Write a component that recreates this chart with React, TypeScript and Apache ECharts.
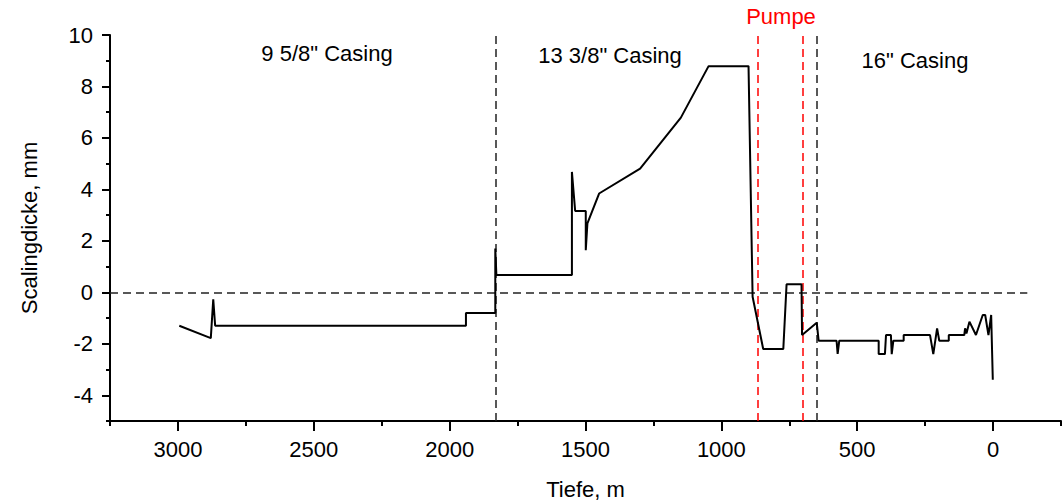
import React, { useEffect, useRef } from "react";
import * as echarts from "echarts";

// Depth (m) and scaling thickness (mm)
const depth = [
  2995, 2879, 2870, 2863, 1940, 1940, 1832, 1832, 1828, 1550, 1550, 1538, 1499, 1499,
  1493, 1450, 1299, 1149, 1047, 900, 885, 846, 772, 760, 705, 703, 649, 642, 576, 572,
  566, 421, 421, 398, 394, 376, 373, 367, 329, 329, 232, 220, 206, 198, 163, 163, 106,
  103, 98, 87, 63, 38, 29, 17, 7, 1,
];
const thickness = [
  -1.3, -1.78, -0.27, -1.3, -1.3, -0.8, -0.8, 1.7, 0.67, 0.67, 4.68, 3.16, 3.16, 1.64,
  2.68, 3.84, 4.81, 6.79, 8.79, 8.79, -0.17, -2.2, -2.2, 0.31, 0.31, -1.66, -1.18, -1.88,
  -1.88, -2.39, -1.88, -1.88, -2.4, -2.4, -1.66, -1.66, -2.4, -1.88, -1.88, -1.66, -1.66,
  -2.4, -1.4, -1.88, -1.88, -1.66, -1.66, -1.4, -1.6, -1.14, -1.66, -0.88, -0.88, -1.66,
  -0.88, -3.4,
];

const xTickValues = [0, 500, 1000, 1500, 2000, 2500, 3000];
const xMinorTickValues = [-250, 250, 750, 1250, 1750, 2250, 2750, 3250];
const yTickValues = [-4, -2, 0, 2, 4, 6, 8, 10];
const yMinorTickValues = [-5, -3, -1, 1, 3, 5, 7, 9];

const casingBoundaries = [1832, 648];
const pumpBoundaries = [867, 701];
const zeroLineEnd = -126;

const casingLabels = ['9 5/8" Casing', '13 3/8" Casing', '16" Casing'];
const pumpLabel = "Pumpe";

const FONT = "'Liberation Sans', Arial, sans-serif";
const FS = 22;

export default function App() {
  const ref = useRef<HTMLDivElement>(null);
  useEffect(() => {
    document.body.style.margin = "0";
    const chart = echarts.init(ref.current!, null, { renderer: "svg" });
    const xRange = { min: -250, max: 3250, inverse: true };
    const txt = { fontSize: FS, color: "#000", fontFamily: FONT };
    const plain = (v: number) => String(v);
    chart.setOption({
      animation: false,
      backgroundColor: "#fff",
      grid: { left: 110, right: 2, top: 35, bottom: 79, containLabel: false, outerBoundsMode: "none" },
      xAxis: [
        {
          type: "value",
          ...xRange,
          position: "bottom",
          name: "Tiefe, m",
          nameLocation: "middle",
          nameGap: 57,
          nameTextStyle: txt,
          axisLine: { show: true, onZero: false, lineStyle: { color: "#000", width: 2 } },
          axisTick: { show: true, customValues: xTickValues, length: 10, lineStyle: { color: "#000", width: 2 } },
          axisLabel: { customValues: xTickValues, margin: 17, formatter: plain, ...txt },
          splitLine: { show: false },
        },
        {
          type: "value",
          ...xRange,
          position: "bottom",
          axisLine: { show: false, onZero: false },
          axisTick: { show: true, customValues: xMinorTickValues, length: 5, lineStyle: { color: "#000", width: 2 } },
          axisLabel: { show: false },
          splitLine: { show: false },
        },
      ],
      yAxis: [
        {
          type: "value",
          min: -5,
          max: 10,
          position: "left",
          name: "Scalingdicke, mm",
          nameLocation: "middle",
          nameGap: 70,
          nameTextStyle: txt,
          axisLine: { show: true, onZero: false, lineStyle: { color: "#000", width: 2 } },
          axisTick: { show: true, customValues: yTickValues, length: 8, lineStyle: { color: "#000", width: 2 } },
          axisLabel: { customValues: yTickValues, margin: 17, formatter: plain, ...txt },
          splitLine: { show: false },
        },
        {
          type: "value",
          min: -5,
          max: 10,
          position: "left",
          axisLine: { show: false, onZero: false },
          axisTick: { show: true, customValues: yMinorTickValues, length: 4, lineStyle: { color: "#000", width: 2 } },
          axisLabel: { show: false },
          splitLine: { show: false },
        },
      ],
      series: [
        {
          type: "line",
          xAxisIndex: 0,
          yAxisIndex: 0,
          data: depth.map((d, i) => [d, thickness[i]]),
          showSymbol: false,
          symbol: "none",
          lineStyle: { color: "#000", width: 2 },
          z: 5,
          markLine: {
            silent: true,
            symbol: ["none", "none"],
            label: { show: false },
            animation: false,
            data: [
              ...casingBoundaries.map((v) => ({
                xAxis: v,
                lineStyle: { color: "#222", type: [8, 5], width: 1.5 },
              })),
              ...pumpBoundaries.map((v) => ({
                xAxis: v,
                lineStyle: { color: "#ff0000", type: [8, 5], width: 1.5 },
              })),
              [
                { coord: [3250, 0], lineStyle: { color: "#222", type: [8, 5], width: 1.5 } },
                { coord: [zeroLineEnd, 0] },
              ],
            ],
          },
        },
      ],
      graphic: [
        { type: "text", x: 327, y: 53, style: { text: casingLabels[0], align: "center", verticalAlign: "middle", font: `${FS}px ${FONT}`, fill: "#000" } },
        { type: "text", x: 610, y: 55, style: { text: casingLabels[1], align: "center", verticalAlign: "middle", font: `${FS}px ${FONT}`, fill: "#000" } },
        { type: "text", x: 915, y: 60, style: { text: casingLabels[2], align: "center", verticalAlign: "middle", font: `${FS}px ${FONT}`, fill: "#000" } },
        { type: "text", x: 781, y: 16, style: { text: pumpLabel, align: "center", verticalAlign: "middle", font: `${FS}px ${FONT}`, fill: "#ff0000" } },
      ],
    });
    return () => chart.dispose();
  }, []);
  return <div ref={ref} style={{ width: 1063, height: 500 }} />;
}
